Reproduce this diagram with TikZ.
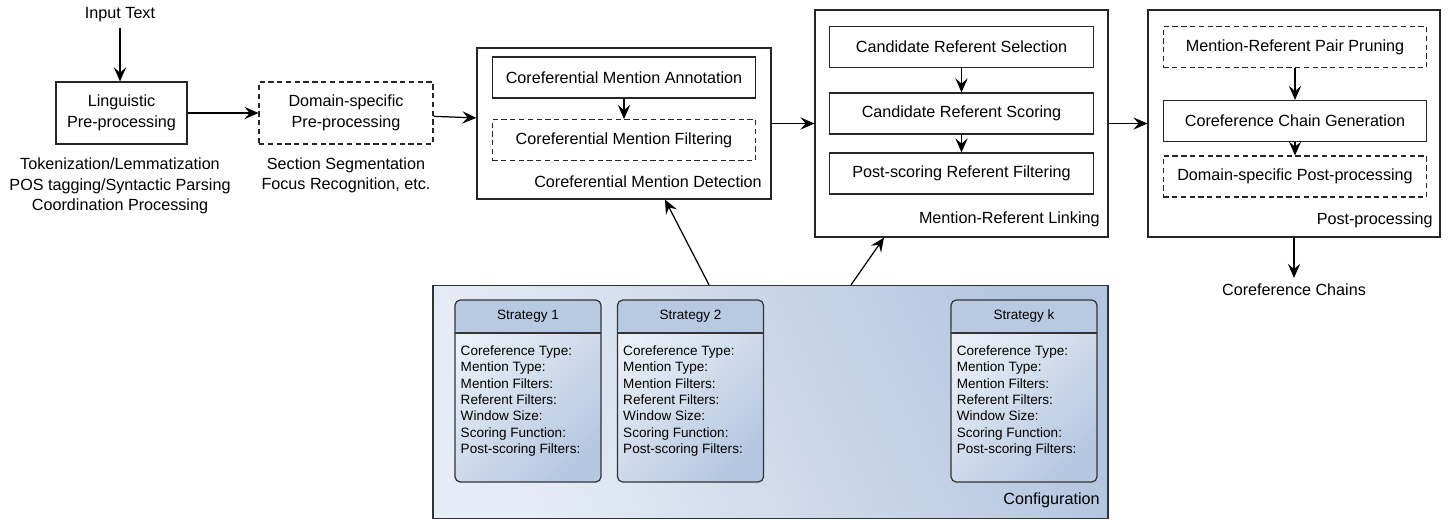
\documentclass[tikz,border=0pt]{standalone}
\usepackage{fontspec}
\setmainfont{Liberation Sans}
\usetikzlibrary{arrows.meta}
\definecolor{cfglight}{HTML}{E6ECF6}
\definecolor{cfgdark}{HTML}{B4C6DF}
\definecolor{hdrblue}{HTML}{B8C9E2}
\definecolor{bodylight}{HTML}{EBF0F8}
\definecolor{bodydark}{HTML}{B6C8E1}
\newcommand{\mainsize}{\fontsize{9.2}{11.7}\selectfont}
\newcommand{\stratsize}{\fontsize{7.7}{9.3}\selectfont}
\newcommand{\stratfields}{Coreference Type:\\Mention Type:\\Mention Filters:\\Referent Filters:\\Window Size:\\Scoring Function:\\Post-scoring Filters:}
\tikzset{
  stage/.style={draw=black!85,line width=0.7pt,inner sep=0pt},
  task/.style={draw=black!85,line width=0.7pt,minimum width=5.27cm,minimum height=0.82cm,inner sep=0pt},
  opttask/.style={task,line width=0.6pt,dash pattern=on 3pt off 2pt},
  stagelabel/.style={anchor=east,inner sep=0pt},
  caption/.style={align=center,inner sep=0pt},
  link/.style={->,line width=0.7pt},
  strategy/.style={draw=black!80,line width=0.7pt,rounded corners=3pt,minimum width=2.92cm,minimum height=3.64cm,
    top color=bodylight,bottom color=bodydark,shading angle=45,
    path picture={\fill[hdrblue] (path picture bounding box.north west) rectangle ([yshift=-0.66cm]path picture bounding box.north east);
      \draw[line width=0.7pt,black!80] ([yshift=-0.66cm]path picture bounding box.north west) -- ([yshift=-0.66cm]path picture bounding box.north east);}},
  fields/.style={anchor=north west,align=left,inner sep=0pt,font=\stratsize}
}

\begin{document}
\begin{tikzpicture}[>={Stealth[length=8pt,width=7pt,inset=3pt]},font=\mainsize]
  \useasboundingbox (0,0) rectangle (28.96,-10.38);

  \node (input) at (2.4,-0.3) {Input Text};
  \node[stage,minimum width=2.62cm,minimum height=1.24cm,align=center] (ling) at (2.43,-2.26) {Linguistic\\Pre-processing};
  \node[caption] (lingcap) at (2.4,-3.72) {Tokenization/Lemmatization\\POS tagging/Syntactic Parsing\\Coordination Processing};
  \node[stage,line width=0.6pt,dash pattern=on 3pt off 2pt,minimum width=3.48cm,minimum height=1.24cm,align=center] (domain) at (6.92,-2.26) {Domain-specific\\Pre-processing};
  \node[caption] (domaincap) at (6.92,-3.51) {Section Segmentation\\Focus Recognition, etc.};

  \node[stage,minimum width=5.88cm,minimum height=3.02cm] (cmd) at (12.48,-2.47) {};
  \node[task] (cma) at (12.48,-1.55) {Coreferential Mention Annotation};
  \node[opttask] (cmf) at (12.48,-2.80) {Coreferential Mention Filtering};
  \node[stagelabel] (cmdlabel) at (15.24,-3.64) {Coreferential Mention Detection};

  \node[stage,minimum width=5.86cm,minimum height=4.54cm] (mrl) at (19.23,-2.47) {};
  \node[task] (sel) at (19.23,-0.94) {Candidate Referent Selection};
  \node[task] (sco) at (19.23,-2.27) {Candidate Referent Scoring};
  \node[task] (psf) at (19.23,-3.47) {Post-scoring Referent Filtering};
  \node[stagelabel] (mrllabel) at (22.0,-4.38) {Mention-Referent Linking};

  \node[stage,minimum width=5.84cm,minimum height=4.54cm] (pp) at (25.88,-2.47) {};
  \node[opttask] (prune) at (25.9,-0.94) {Mention-Referent Pair Pruning};
  \node[task] (chain) at (25.9,-2.42) {Coreference Chain Generation};
  \node[opttask] (dpp) at (25.9,-3.53) {Domain-specific Post-processing};
  \node[stagelabel] (pplabel) at (28.66,-4.40) {Post-processing};
  \node (chains) at (25.88,-5.8) {Coreference Chains};

  \node[stage,draw=black!80,minimum width=13.5cm,minimum height=4.66cm,top color=cfgdark,bottom color=cfglight,shading angle=-65] (config) at (15.41,-8.04) {};
  \node[stagelabel] (configlabel) at (22.0,-10.0) {Configuration};

  \node[strategy] (s1) at (10.56,-7.82) {};
  \node[font=\stratsize] at ([yshift=-0.33cm]s1.north) {Strategy 1};
  \node[fields] at ([xshift=0.12cm,yshift=-0.92cm]s1.north west) {\stratfields};
  \node[strategy] (s2) at (13.81,-7.82) {};
  \node[font=\stratsize] at ([yshift=-0.33cm]s2.north) {Strategy 2};
  \node[fields] at ([xshift=0.12cm,yshift=-0.92cm]s2.north west) {\stratfields};
  \node[strategy] (sk) at (20.48,-7.82) {};
  \node[font=\stratsize] at ([yshift=-0.33cm]sk.north) {Strategy k};
  \node[fields] at ([xshift=0.12cm,yshift=-0.92cm]sk.north west) {\stratfields};

  \draw[link] (input.south) -- (input.south |- ling.north);
  \draw[link] (ling) -- (domain);
  \draw[link] (domain) -- (cmd);
  \draw[link] (cmd) -- (mrl);
  \draw[link] (mrl) -- (pp);
  \draw[link] (cma) -- (cmf);
  \draw[link] (sel) -- (sco);
  \draw[link] (sco) -- (psf);
  \draw[link] (prune) -- (chain);
  \draw[link] (chain) -- (dpp);
  \draw[link] (pp.south -| chains) -- (chains);
  \draw[link] ([xshift=-1.23cm]config.north) -- ([xshift=0.82cm]cmd.south);
  \draw[link] ([xshift=1.61cm]config.north) -- ([xshift=-1.55cm]mrl.south);
\end{tikzpicture}
\end{document}
